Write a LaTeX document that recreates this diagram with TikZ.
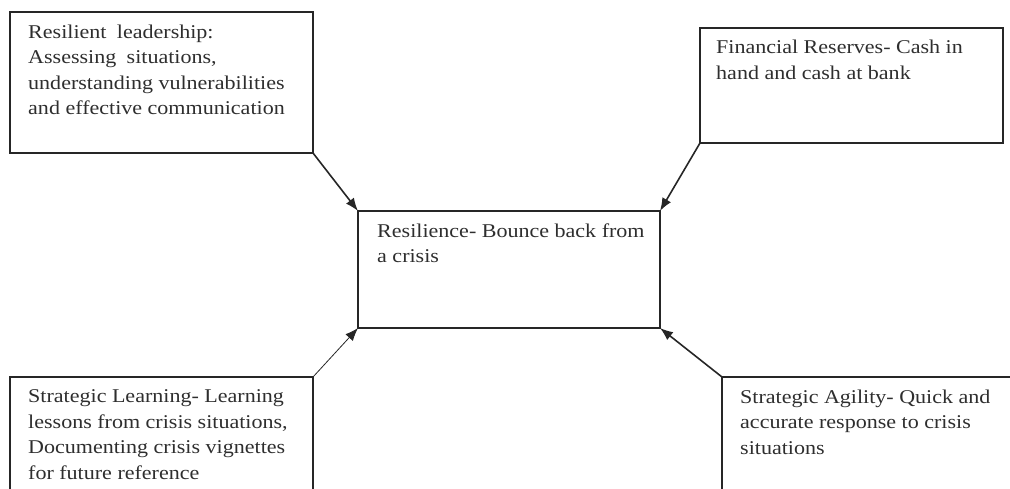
\documentclass[tikz,border=0pt]{standalone}
\usepackage{fontspec}
\setmainfont[FakeStretch=1.13]{Liberation Serif}
\usetikzlibrary{arrows.meta}
\begin{document}
\begin{tikzpicture}[x=1pt,y=-1pt,
  box/.style={draw=black!85, line width=2pt, minimum width=303pt, inner sep=0pt, outer sep=0pt, anchor=north west, rectangle},
  txt/.style={anchor=north west, inner sep=0pt, align=left, text=black!82, font=\fontsize{19.5}{25.5}\selectfont},
  conn/.style={line width=1.6pt, draw=black!85, -{Latex[length=13pt,width=10pt]}},
  thin conn/.style={conn, line width=0.8pt}]
\useasboundingbox (0,0) rectangle (1010,488);
\clip (0,0) rectangle (1010,488);
\node[box, minimum height=141pt] (lead) at (10,12) {};
\node[box, minimum height=115pt] (fin) at (700,28) {};
\node[box, minimum width=302pt, minimum height=117pt] (res) at (358,211) {};
\node[box, minimum height=130pt] (learn) at (10,377) {};
\node[box, minimum height=130pt] (agil) at (722,377) {};
\node[txt] (leadt) at ([xshift=18pt,yshift=-12.5pt]lead.north west) {Resilient\hspace{0.25em} leadership:\\Assessing\hspace{0.25em} situations,\\understanding vulnerabilities\\and effective communication};
\node[txt] (fint) at ([xshift=16pt,yshift=-12pt]fin.north west) {Financial Reserves- Cash in\\hand and cash at bank};
\node[txt] (rest) at ([xshift=19pt,yshift=-12.5pt]res.north west) {Resilience- Bounce back from\\a crisis};
\node[txt] (learnt) at ([xshift=18pt,yshift=-12.5pt]learn.north west) {Strategic Learning- Learning\\lessons from crisis situations,\\Documenting crisis vignettes\\for future reference};
\node[txt] (agilt) at ([xshift=18pt,yshift=-12.5pt]agil.north west) {Strategic Agility- Quick and\\accurate response to crisis\\situations};
\draw[conn] (lead.south east) -- (res.north west);
\draw[conn] (fin.south west) -- (res.north east);
\draw[thin conn] (learn.north east) -- (res.south west);
\draw[conn] (agil.north west) -- (res.south east);
\end{tikzpicture}
\end{document}
